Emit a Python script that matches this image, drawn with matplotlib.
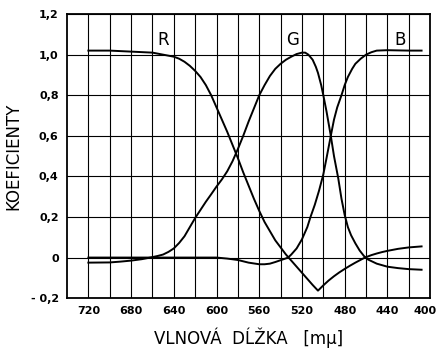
import matplotlib.pyplot as plt
from matplotlib.transforms import ScaledTranslation

# === DATA ===
wl_r = [720, 700, 680, 660, 650, 640, 635, 630, 625, 620, 615, 610, 605, 600, 595, 590, 585,
        580, 575, 570, 565, 560, 555, 550, 545, 540, 535, 530, 525, 520, 515, 510, 505,
        500, 495, 490, 485, 480, 475, 470, 465, 461, 455, 450, 445, 440, 430, 420, 408]
coef_r = [1.02, 1.02, 1.015, 1.01, 1.0, 0.99, 0.98, 0.965, 0.945, 0.92, 0.89, 0.85, 0.80, 0.74,
          0.68, 0.62, 0.555, 0.49, 0.42, 0.355, 0.29, 0.23, 0.175, 0.13, 0.085, 0.05, 0.015,
          -0.015, -0.045, -0.075, -0.105, -0.135, -0.163, -0.137, -0.113, -0.092, -0.073,
          -0.056, -0.04, -0.025, -0.011, 0.0, 0.012, 0.02, 0.027, 0.033, 0.043, 0.05, 0.055]

wl_g = [720, 700, 690, 680, 670, 662, 655, 650, 645, 640, 635, 630, 625, 620, 615, 610, 605,
        600, 595, 590, 585, 580, 575, 570, 565, 560, 555, 550, 545, 540, 535, 530, 525, 520,
        517, 514, 510, 507, 505, 502, 500, 497, 493, 490, 486, 483, 480, 477, 474, 470, 466,
        462, 458, 450, 440, 430, 420, 408]
coef_g = [-0.025, -0.024, -0.02, -0.015, -0.008, 0.0, 0.008, 0.015, 0.028, 0.045, 0.072, 0.105,
          0.15, 0.195, 0.235, 0.275, 0.312, 0.35, 0.385, 0.425, 0.475, 0.535, 0.6, 0.67, 0.735,
          0.8, 0.85, 0.895, 0.93, 0.955, 0.975, 0.99, 1.003, 1.01, 1.01, 1.0, 0.975, 0.94,
          0.91, 0.85, 0.8, 0.72, 0.6, 0.5, 0.39, 0.29, 0.21, 0.15, 0.11, 0.07, 0.035, 0.008,
          -0.01, -0.03, -0.045, -0.052, -0.057, -0.06]

wl_b = [720, 680, 640, 600, 590, 580, 570, 560, 555, 550, 545, 540, 535, 533, 530, 525, 520,
        515, 512, 508, 504, 500, 497, 493, 490, 487, 483, 480, 477, 473, 470, 465, 460, 455,
        450, 440, 420, 408]
coef_b = [0.0, 0.0, 0.0, 0.0, -0.005, -0.012, -0.025, -0.033, -0.033, -0.03, -0.022, -0.013,
          -0.004, 0.0, 0.015, 0.045, 0.09, 0.15, 0.2, 0.26, 0.33, 0.41, 0.49, 0.6, 0.68, 0.74,
          0.8, 0.85, 0.89, 0.93, 0.955, 0.98, 1.0, 1.012, 1.02, 1.022, 1.02, 1.02]

curve_labels = ['R', 'G', 'B']
label_wl = [650, 529, 428]

x_major = [720, 680, 640, 600, 560, 520, 480, 440, 400]
x_minor = [700, 660, 620, 580, 540, 500, 460, 420]
y_ticks = [-0.2, 0.0, 0.2, 0.4, 0.6, 0.8, 1.0, 1.2]
y_labels = ['- 0,2', '0', '0,2', '0,4', '0,6', '0,8', '1,0', '1,2']

# === PLOT ===
fig = plt.figure(figsize=(4.38, 3.52), dpi=100)
ax = fig.add_axes([0.153, 0.153, 0.829, 0.807])

for wl, coef in [(wl_r, coef_r), (wl_g, coef_g), (wl_b, coef_b)]:
    ax.plot(wl, coef, color='black', lw=1.4, zorder=3)

for lab, x in zip(curve_labels, label_wl):
    ax.text(x, 1.07, lab, fontsize=12, ha='center', va='center')

ax.set_xlim(740, 400)
ax.set_ylim(-0.2, 1.2)
ax.set_xticks(x_major)
ax.set_xticks(x_minor, minor=True)
ax.set_yticks(y_ticks)
ax.set_yticklabels(y_labels)
ax.tick_params(which='both', length=0, labelsize=8, pad=6)
for t in ax.get_xticklabels() + ax.get_yticklabels():
    t.set_fontweight('bold')

# last x label sits a bit left so it stays inside the picture
last = ax.get_xticklabels()[-1]
last.set_transform(last.get_transform() + ScaledTranslation(-5 / 100, 0, fig.dpi_scale_trans))

ax.grid(True, which='both', color='black', lw=0.8)
for s in ax.spines.values():
    s.set_linewidth(1.3)

ax.set_xlabel('VLNOVÁ  DĹŽKA   [mμ]', fontsize=12, labelpad=8)
ax.set_ylabel('KOEFICIENTY', fontsize=12, labelpad=6)

plt.savefig('out.png', dpi=100)
